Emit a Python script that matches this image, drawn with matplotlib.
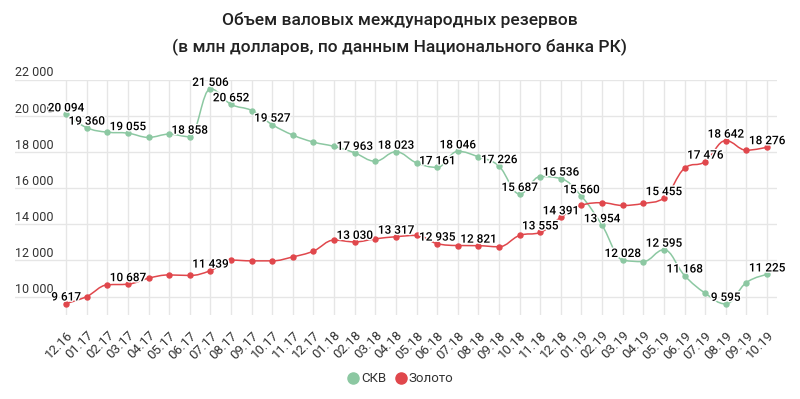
import numpy as np
import matplotlib
matplotlib.use("Agg")
import matplotlib.pyplot as plt
import matplotlib.patheffects as pe
from matplotlib.path import Path
from matplotlib.patches import PathPatch
from matplotlib import transforms
from matplotlib.lines import Line2D

plt.rcParams['font.family'] = ['Roboto', 'DejaVu Sans']

# Data (млн долларов)
months = ['12.16', '01.17', '02.17', '03.17', '04.17', '05.17', '06.17', '07.17', '08.17',
          '09.17', '10.17', '11.17', '12.17', '01.18', '02.18', '03.18', '04.18', '05.18',
          '06.18', '07.18', '08.18', '09.18', '10.18', '11.18', '12.18', '01.19', '02.19',
          '03.19', '04.19', '05.19', '06.19', '07.19', '08.19', '09.19', '10.19']
skv = [20094, 19360, 19110, 19055, 18820, 19000, 18858, 21506, 20652,
       20310, 19527, 18950, 18560, 18320, 17963, 17500, 18023, 17410,
       17161, 18046, 17740, 17226, 15687, 16650, 16536, 15560, 13954,
       12028, 11940, 12595, 11168, 10190, 9595, 10780, 11225]
gold = [9617, 10000, 10650, 10687, 11020, 11200, 11170, 11439, 12020,
        11980, 11980, 12200, 12520, 13130, 13030, 13200, 13317, 13390,
        12935, 12830, 12821, 12760, 13390, 13555, 14391, 15060, 15200,
        15050, 15160, 15455, 17110, 17476, 18642, 18110, 18276]
skv_labeled = [0, 1, 3, 6, 7, 8, 10, 14, 16, 18, 19, 21, 22, 24, 25, 26, 27, 29, 30, 32, 34]
gold_labeled = [0, 3, 7, 14, 16, 18, 20, 23, 24, 29, 31, 32, 34]
y_ticks = [10000, 12000, 14000, 16000, 18000, 20000, 22000]

green = '#8cc8a2'
red = '#e0474c'
text_col = '#333333'


def fmt(v):
    return '{:,}'.format(v).replace(',', ' ')


def spline_path(xs, ys, smoothing=1.5):
    # highcharts-like spline through the points
    n = len(xs)
    lc = [None] * n
    rc = [None] * n
    for i in range(n):
        x, y = xs[i], ys[i]
        if i == 0 or i == n - 1:
            lc[i] = (x, y)
            rc[i] = (x, y)
            continue
        lx, ly = xs[i - 1], ys[i - 1]
        nx, ny = xs[i + 1], ys[i + 1]
        d = smoothing + 1
        lcx = (smoothing * x + lx) / d
        lcy = (smoothing * y + ly) / d
        rcx = (smoothing * x + nx) / d
        rcy = (smoothing * y + ny) / d
        corr = ((rcy - lcy) * (rcx - x)) / (rcx - lcx) + y - rcy
        lcy += corr
        rcy += corr
        if lcy > ly and lcy > y:
            lcy = max(ly, y)
            rcy = 2 * y - lcy
        elif lcy < ly and lcy < y:
            lcy = min(ly, y)
            rcy = 2 * y - lcy
        if rcy > ny and rcy > y:
            rcy = max(ny, y)
            lcy = 2 * y - rcy
        elif rcy < ny and rcy < y:
            rcy = min(ny, y)
            lcy = 2 * y - rcy
        lc[i] = (lcx, lcy)
        rc[i] = (rcx, rcy)
    verts = [(xs[0], ys[0])]
    codes = [Path.MOVETO]
    for i in range(1, n):
        verts += [rc[i - 1], lc[i], (xs[i], ys[i])]
        codes += [Path.CURVE4] * 3
    return Path(verts, codes)


fig = plt.figure(figsize=(8, 3.99), dpi=100)
ax = fig.add_axes([15 / 800, 1 - 315 / 399, 762 / 800, 235 / 399])

x = np.arange(len(months))
ax.set_xlim(-51 / 20.6, 34 + 10 / 20.6)
ax.set_ylim(8980, 22000)

for s in ax.spines.values():
    s.set_visible(False)

ax.set_yticks(y_ticks)
ax.set_yticklabels([])
ax.tick_params(axis='y', length=0)
ax.set_xticks(x)
ax.set_xticklabels(months, rotation=45, ha='right', rotation_mode='anchor',
                   fontsize=9.5, color=text_col)
ax.tick_params(axis='x', length=0, pad=10)
ax.grid(True, color='#e6e6e6', linewidth=1)
ax.set_axisbelow(True)

ylab_tr = transforms.offset_copy(ax.get_yaxis_transform(), fig=fig, x=0, y=3.5, units='dots')
for v in y_ticks:
    ax.text(0, v, fmt(v), transform=ylab_tr, ha='left', va='baseline',
            fontsize=9, color=text_col)

for vals, col, labeled in [(skv, green, skv_labeled), (gold, red, gold_labeled)]:
    ax.add_patch(PathPatch(spline_path(list(x), vals), facecolor='none',
                           edgecolor=col, linewidth=1.1, zorder=3))
    ax.plot(x, vals, 'o', color=col, markersize=3.6, zorder=4)

lab_tr = transforms.offset_copy(ax.transData, fig=fig, x=0, y=6.5, units='dots')
for vals, labeled in [(skv, skv_labeled), (gold, gold_labeled)]:
    for i in labeled:
        t = ax.text(x[i], vals[i], fmt(vals[i]), transform=lab_tr, ha='center', va='center',
                    fontsize=8.5, fontweight='medium', color='black', zorder=6)
        t.set_path_effects([pe.withStroke(linewidth=2, foreground='white')])

fig.text(0.5, 1 - 20 / 399, 'Объем валовых международных резервов', ha='center', va='center',
         fontsize=12.5, fontweight='medium', color='#222222')
fig.text(0.5, 1 - 47 / 399, '(в млн долларов, по данным Национального банка РК)', ha='center',
         va='center', fontsize=12.5, fontweight='medium', color='#222222')

handles = [Line2D([], [], marker='o', linestyle='none', color=green, markersize=8),
           Line2D([], [], marker='o', linestyle='none', color=red, markersize=8)]
fig.legend(handles, ['СКВ', 'Золото'], loc='center', bbox_to_anchor=(0.5, 1 - 379 / 399),
           ncol=2, frameon=False, fontsize=9.5, handletextpad=0.1, columnspacing=0.6,
           handlelength=1.0, labelcolor=text_col)

fig.savefig('out.png', dpi=100)
